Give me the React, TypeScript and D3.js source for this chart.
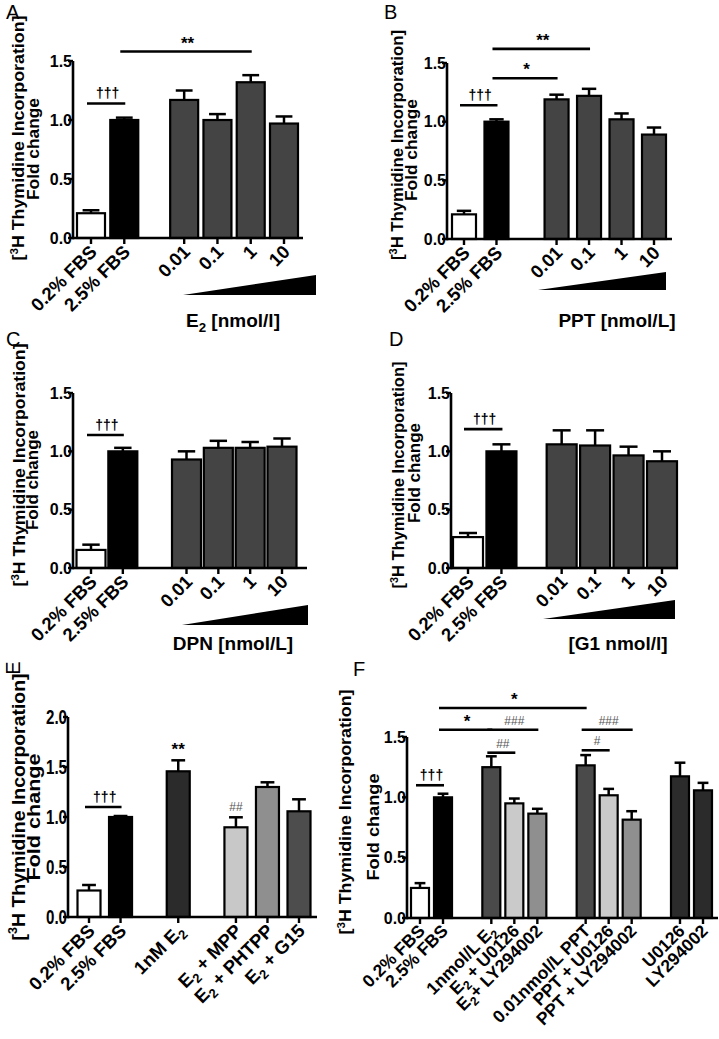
import React from "react";
import * as d3 from "d3";

// ---------------- DATA ----------------
const fbsCats = ["0.2% FBS", "2.5% FBS"];
const doseCats = ["0.01", "0.1", "1", "10"];

const aCategories = [...fbsCats, ...doseCats];
const aMeans = [0.21, 1.0, 1.17, 1.0, 1.32, 0.97];
const aErrors = [0.025, 0.02, 0.08, 0.05, 0.06, 0.06];

const bCategories = [...fbsCats, ...doseCats];
const bMeans = [0.21, 1.0, 1.19, 1.22, 1.02, 0.89];
const bErrors = [0.03, 0.02, 0.04, 0.06, 0.05, 0.06];

const cCategories = [...fbsCats, ...doseCats];
const cMeans = [0.155, 1.0, 0.93, 1.03, 1.03, 1.04];
const cErrors = [0.045, 0.03, 0.07, 0.06, 0.05, 0.07];

const dCategories = [...fbsCats, ...doseCats];
const dMeans = [0.265, 1.0, 1.06, 1.05, 0.965, 0.915];
const dErrors = [0.035, 0.06, 0.12, 0.13, 0.075, 0.085];

const eCategories = ["0.2% FBS", "2.5% FBS", "1nM E₂", "E₂ + MPP", "E₂ + PHTPP", "E₂ + G15"];
const eMeans = [0.265, 1.0, 1.457, 0.897, 1.3, 1.057];
const eErrors = [0.055, 0.01, 0.11, 0.1, 0.047, 0.12];

const fCategories = [
  "0.2% FBS", "2.5% FBS", "1nmol/L E₂", "E₂ + U0126", "E₂+ LY294002",
  "0.01nmol/L PPT", "PPT + U0126", "PPT + LY294002", "U0126", "LY294002",
];
const fMeans = [0.249, 1.0, 1.25, 0.95, 0.865, 1.265, 1.017, 0.815, 1.174, 1.058];
const fErrors = [0.04, 0.03, 0.09, 0.04, 0.04, 0.085, 0.053, 0.07, 0.113, 0.062];

const yTicks15 = [0, 0.5, 1.0, 1.5];
const yTicks20 = [0, 0.5, 1.0, 1.5, 2.0];

// significance: [fromBar, toBar, value, label]
const aSig: [number, number, number, string][] = [[0, 1, 1.14, "†††"], [1, 4, 1.58, "**"]];
const bSig: [number, number, number, string][] = [[0, 1, 1.14, "†††"], [1, 2, 1.37, "*"], [1, 3, 1.62, "**"]];
const cSig: [number, number, number, string][] = [[0, 1, 1.14, "†††"]];
const dSig: [number, number, number, string][] = [[0, 1, 1.19, "†††"]];
const eSig: [number, number, number, string][] = [[0, 1, 1.1, "†††"]];
const fSig: [number, number, number, string][] = [
  [0, 1, 1.1, "†††"], [1, 2, 1.56, "*"], [2, 4, 1.56, "###"], [2, 3, 1.37, "##"],
  [1, 5, 1.74, "*"], [5, 7, 1.56, "###"], [5, 6, 1.39, "#"],
];
// marks above single bars: [bar, value, label]
const eMarks: [number, number, string][] = [[2, 1.62, "**"], [3, 1.06, "##"]];

// ---------------- STYLE / LAYOUT ----------------
const FONT = "'Liberation Sans', Arial, Helvetica, sans-serif";
const G_DOSE = "#444444";
const fillsABCD = ["#ffffff", "#000000", G_DOSE, G_DOSE, G_DOSE, G_DOSE];
const fillsE = ["#ffffff", "#000000", "#2b2b2b", "#c8c8c8", "#8f8f8f", "#4d4d4d"];
const fillsF = ["#ffffff", "#000000", "#4a4a4a", "#cacaca", "#8f8f8f", "#4a4a4a", "#cacaca", "#8f8f8f", "#2b2b2b", "#2b2b2b"];

type Cfg = {
  letter: string; letterX: number; letterY: number; letterRot?: boolean;
  cats: string[]; means: number[]; errs: number[]; groups: number[]; fills: string[];
  gap: number; cx0: number; cx1: number; barW: number;
  axisX: number; axisEnd: number; yBase: number; yTop: number; yMax: number; ticks: number[];
  tickSize: number; tickLen?: number; catSize: number; catDx: number; catDy: number;
  sig: [number, number, number, string][]; marks?: [number, number, string][];
  tri?: [number, number, number, number];
  title?: string; titleX?: number; titleY?: number;
  yl1: [number, number, number]; yl2: [number, number, number]; ylSize: number;
};

function rich(s: string, size: number) {
  const parts = s.split(/(₂|³)/).filter((p) => p !== "");
  const out: React.ReactNode[] = [];
  let shift = 0;
  parts.forEach((p, k) => {
    if (p === "₂") {
      out.push(<tspan key={k} fontSize={size * 0.7} dy={size * 0.25 - shift}>2</tspan>);
      shift = size * 0.25;
    } else if (p === "³") {
      out.push(<tspan key={k} fontSize={size * 0.65} dy={-size * 0.4 - shift}>3</tspan>);
      shift = -size * 0.4;
    } else {
      out.push(<tspan key={k} dy={-shift}>{p}</tspan>);
      shift = 0;
    }
  });
  return out;
}

function Panel({ c }: { c: Cfg }) {
  const slots = c.groups.map((g, i) => i + g * c.gap);
  const x = d3.scaleLinear().domain([0, slots[slots.length - 1]]).range([c.cx0, c.cx1]);
  const y = d3.scaleLinear().domain([0, c.yMax]).range([c.yBase, c.yTop]);
  const fmt = d3.format(".1f");
  const bw = c.barW;
  const capW = bw * 0.6;
  return (
    <g>
      {c.letterRot ? (
        <text transform={`translate(${c.letterX},${c.letterY}) rotate(-90)`} fontFamily={FONT} fontSize={20} textAnchor="middle">{c.letter}</text>
      ) : (
        <text x={c.letterX} y={c.letterY} fontFamily={FONT} fontSize={20}>{c.letter}</text>
      )}
      {/* y label */}
      <text transform={`translate(${c.yl1[0]},${c.yl1[1]}) rotate(-90)`} textAnchor="middle" fontFamily={FONT} fontWeight="bold" fontSize={c.ylSize} textLength={c.yl1[2]} lengthAdjust="spacingAndGlyphs">
        {rich("[³H Thymidine Incorporation]", c.ylSize)}
      </text>
      <text transform={`translate(${c.yl2[0]},${c.yl2[1]}) rotate(-90)`} textAnchor="middle" fontFamily={FONT} fontWeight="bold" fontSize={c.ylSize} textLength={c.yl2[2]} lengthAdjust="spacingAndGlyphs">
        Fold change
      </text>
      {/* bars */}
      {c.means.map((m, i) => {
        const cx = x(slots[i]);
        const top = y(m);
        const et = y(m + c.errs[i]);
        return (
          <g key={i}>
            <line x1={cx} x2={cx} y1={top} y2={et} stroke="#000" strokeWidth={2.5} />
            <line x1={cx - capW / 2} x2={cx + capW / 2} y1={et} y2={et} stroke="#000" strokeWidth={2.5} />
            <rect x={cx - bw / 2} y={top} width={bw} height={c.yBase - top} fill={c.fills[i]} stroke="#000" strokeWidth={2.2} />
          </g>
        );
      })}
      {/* axes */}
      <line x1={c.axisX} x2={c.axisEnd} y1={c.yBase} y2={c.yBase} stroke="#000" strokeWidth={2.6} />
      <line x1={c.axisX} x2={c.axisX} y1={c.yBase + 1.3} y2={y(c.yMax)} stroke="#000" strokeWidth={2.6} />
      {c.ticks.map((t) => (
        <g key={t}>
          <line x1={c.axisX - 5} x2={c.axisX} y1={y(t)} y2={y(t)} stroke="#000" strokeWidth={2.4} />
          <text x={c.axisX - 1} y={y(t)} dy="0.36em" textAnchor="end" fontFamily={FONT} fontWeight="bold" fontSize={c.tickSize}
            textLength={c.tickLen} lengthAdjust={c.tickLen ? "spacingAndGlyphs" : undefined}>{fmt(t)}</text>
        </g>
      ))}
      {c.cats.map((cat, i) => {
        const cx = x(slots[i]);
        return (
          <g key={cat + i}>
            <line x1={cx} x2={cx} y1={c.yBase} y2={c.yBase + 6} stroke="#000" strokeWidth={2.4} />
            <text transform={`translate(${cx + c.catDx},${c.yBase + c.catDy}) rotate(-45)`} textAnchor="end" fontFamily={FONT} fontWeight="bold" fontSize={c.catSize}>
              {rich(cat, c.catSize)}
            </text>
          </g>
        );
      })}
      {/* significance */}
      {c.sig.map(([a, b, v, lab], k) => {
        const isHash = lab.startsWith("#");
        return (
          <g key={k}>
            <line x1={x(slots[a]) - 4} x2={x(slots[b]) + 1} y1={y(v)} y2={y(v)} stroke="#000" strokeWidth={2.6} />
            <text x={(x(slots[a]) + x(slots[b])) / 2} y={y(v) - (lab.startsWith("*") ? 3 : 5)} textAnchor="middle" fontFamily={FONT} fontWeight={isHash ? "normal" : "bold"} fill={isHash ? "#555" : "#000"} fontSize={lab.startsWith("*") ? 17 : isHash ? 12 : 14}>{lab}</text>
          </g>
        );
      })}
      {(c.marks || []).map(([i, v, lab], k) => (
        <text key={k} x={x(slots[i])} y={y(v)} textAnchor="middle" fontFamily={FONT} fontWeight={lab.startsWith("#") ? "normal" : "bold"} fill={lab.startsWith("#") ? "#555" : "#000"} fontSize={lab.startsWith("*") ? 17 : 12}>{lab}</text>
      ))}
      {c.tri && (
        <polygon points={`${c.tri[0]},${c.tri[2]} ${c.tri[1]},${c.tri[2] - c.tri[3]} ${c.tri[1]},${c.tri[2]} ${c.tri[0]},${c.tri[2]}`} fill="#000" />
      )}
      {c.title && (
        <text x={c.titleX} y={c.titleY} textAnchor="middle" fontFamily={FONT} fontWeight="bold" fontSize={19}>{rich(c.title, 19)}</text>
      )}
    </g>
  );
}

const groupsDose = [0, 0, 1, 1, 1, 1];

const panels: Cfg[] = [
  {
    letter: "A", letterX: 6, letterY: 19, cats: aCategories, means: aMeans, errs: aErrors, groups: groupsDose, fills: fillsABCD,
    gap: 0.8, cx0: 91, cx1: 284, barW: 28, axisX: 73, axisEnd: 303, yBase: 238, yTop: 61, yMax: 1.5, ticks: yTicks15,
    tickSize: 16, catSize: 18.5, catDx: 7, catDy: 15, sig: aSig, tri: [183, 316, 295, 20],
    title: "E₂ [nmol/l]", titleX: 233, titleY: 327, yl1: [24, 138, 245], yl2: [39, 149, 102], ylSize: 16,
  },
  {
    letter: "B", letterX: 384, letterY: 19, cats: bCategories, means: bMeans, errs: bErrors, groups: groupsDose, fills: fillsABCD,
    gap: 0.85, cx0: 464, cx1: 654, barW: 24, axisX: 447, axisEnd: 672, yBase: 239, yTop: 63, yMax: 1.5, ticks: yTicks15,
    tickSize: 16, catSize: 18.5, catDx: 7, catDy: 15, sig: bSig, tri: [538, 666, 290, 18],
    title: "PPT [nmol/L]", titleX: 617, titleY: 327, yl1: [403, 145, 230], yl2: [417, 150, 102], ylSize: 16,
  },
  {
    letter: "C", letterX: 6, letterY: 346, cats: cCategories, means: cMeans, errs: cErrors, groups: groupsDose, fills: fillsABCD,
    gap: 1.0, cx0: 91, cx1: 282, barW: 29, axisX: 73, axisEnd: 307, yBase: 568, yTop: 393, yMax: 1.5, ticks: yTicks15,
    tickSize: 16, catSize: 18.5, catDx: 7, catDy: 15, sig: cSig, tri: [182, 308, 625, 20],
    title: "DPN [nmol/L]", titleX: 233, titleY: 650, yl1: [25, 465, 243], yl2: [38, 480, 100], ylSize: 16,
  },
  {
    letter: "D", letterX: 389, letterY: 346, cats: dCategories, means: dMeans, errs: dErrors, groups: groupsDose, fills: fillsABCD,
    gap: 0.8, cx0: 468, cx1: 662, barW: 30, axisX: 451, axisEnd: 678, yBase: 568, yTop: 393, yMax: 1.5, ticks: yTicks15,
    tickSize: 16, catSize: 18.5, catDx: 7, catDy: 15, sig: dSig, tri: [543, 675, 619, 19],
    title: "[G1 nmol/l]", titleX: 618, titleY: 650, yl1: [404, 475, 227], yl2: [420, 473, 100], ylSize: 16,
  },
  {
    letter: "E", letterX: 20, letterY: 668, letterRot: true, cats: eCategories, means: eMeans, errs: eErrors, groups: [0, 0, 1, 2, 2, 2], fills: fillsE,
    gap: 0.83, cx0: 89, cx1: 299, barW: 23, axisX: 68, axisEnd: 317, yBase: 917, yTop: 717, yMax: 2.0, ticks: yTicks20,
    tickSize: 20, tickLen: 21, catSize: 18.5, catDx: 7, catDy: 15, sig: eSig, marks: eMarks,
    yl1: [25, 807, 267], yl2: [40, 817, 127], ylSize: 19,
  },
  {
    letter: "F", letterX: 353, letterY: 676, cats: fCategories, means: fMeans, errs: fErrors, groups: [0, 0, 1, 1, 1, 2, 2, 2, 3, 3], fills: fillsF,
    gap: 1.1, cx0: 420, cx1: 703, barW: 18, axisX: 407, axisEnd: 718, yBase: 918, yTop: 737, yMax: 1.5, ticks: yTicks15,
    tickSize: 16, catSize: 17.5, catDx: 6, catDy: 14, sig: fSig,
    yl1: [351, 812, 245], yl2: [379, 827, 107], ylSize: 16,
  },
];

export default function App() {
  return (
    <svg width={719} height={1039} style={{ position: "absolute", left: 0, top: 0, background: "#fff" }}>
      <rect width={719} height={1039} fill="#fff" />
      {panels.map((p) => (
        <Panel key={p.letter} c={p} />
      ))}
    </svg>
  );
}
